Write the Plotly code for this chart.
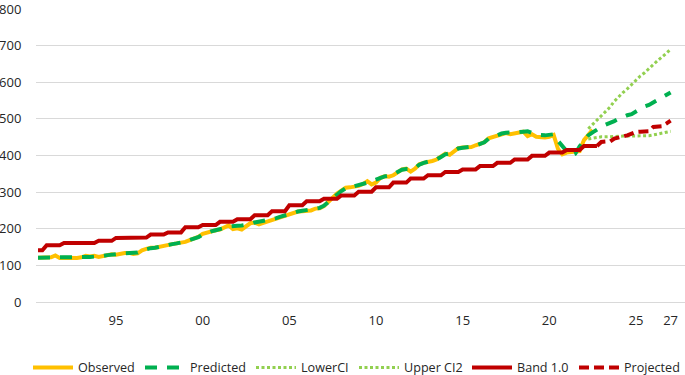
import plotly.graph_objects as go

# Quarterly time axis (decimal years), 1990 Q3 .. 2027 Q1
years = [1990.5 + i / 4 for i in range(147)]

observed = [
    121, 121, 121, 122, 127, 120, 121, 120, 120, 120, 122, 126, 124, 126, 123, 125,
    129, 130, 129, 132, 134, 134, 131, 133, 141, 145, 148, 148, 151, 152, 157, 158,
    160, 162, 164, 169, 173, 178, 186, 190, 193, 196, 198, 203, 209, 199, 201, 198,
    206, 215, 217, 212, 216, 220, 224, 228, 233, 237, 241, 244, 247, 248, 248, 250,
    255, 256, 262, 274, 285, 296, 304, 312, 313, 314, 317, 322, 330, 321, 326, 339,
    343, 342, 346, 354, 362, 364, 356, 364, 376, 380, 382, 385, 389, 397, 405, 402,
    412, 420, 422, 422, 423, 428, 431, 436, 447, 451, 454, 457, 461, 458, 460, 463,
    465, 453, 458, 451, 449, 449, 451, 456, 418, 403, 408, 410, 410, 412, 442, 455,
    470,
]

predicted = [
    121, 121, 121, 121, 122, 121, 121, 121, 121, 121, 122, 123, 123, 124, 124, 126,
    128, 130, 130, 132, 133, 134, 133, 135, 141, 145, 147, 148, 151, 153, 156, 158,
    160, 162, 165, 169, 173, 177, 184, 190, 193, 196, 198, 202, 206, 206, 208, 209,
    210, 213, 217, 219, 221, 223, 226, 229, 233, 237, 241, 244, 247, 249, 251, 252,
    255, 257, 263, 273, 284, 295, 303, 310, 313, 315, 318, 323, 326, 329, 334, 339,
    343, 345, 348, 355, 361, 363, 363, 366, 375, 380, 383, 386, 389, 396, 403, 406,
    412, 419, 421, 422, 424, 427, 431, 436, 446, 451, 455, 460, 462, 462, 463, 464,
    465, 466, 462, 458, 456, 455, 456, 458, 440, 425, 412, 400, 405, 425, 440, 455,
    463, 472, 478, 484, 488, 494, 500, 506, 510, 513, 520, 528, 534, 538, 545, 550,
    556, 563, 572,
]

ci_start = 127
lower_ci = [445, 447, 450, 451, 451, 452, 453, 452, 453, 453,
            453, 453, 453, 453, 454, 456, 458, 460, 463, 466]
upper_ci = [473, 485, 497, 508, 520, 532, 548, 561, 572, 582,
            594, 605, 617, 626, 636, 648, 659, 668, 679, 690]

band = [
    141, 141,
    155, 155, 155, 155,
    161, 161, 161, 161,
    161, 161, 161, 161,
    167, 167, 167, 167,
    175, 175, 175, 175,
    176, 176, 176, 176,
    184, 184, 184, 184,
    190, 190, 190, 190,
    204, 204, 204, 204,
    210, 210, 210, 210,
    219, 219, 219, 219,
    226, 226, 226, 226,
    237, 237, 237, 237,
    248, 248, 248, 248,
    264, 264, 264, 264,
    275, 275, 275, 275,
    282, 282, 282, 282,
    291, 291, 291, 291,
    301, 301, 301, 301,
    313, 313, 313, 313,
    326, 326, 326, 326,
    337, 337, 337, 337,
    346, 346, 346, 346,
    355, 355, 355, 355,
    362, 362, 362, 362,
    371, 371, 371, 371,
    380, 380, 380, 380,
    389, 389, 389, 389,
    399, 399, 399, 399,
    408, 408, 408, 408,
    415, 415, 415, 415,
    426, 426, 426, 426,
]

proj_start = 129
projected = [426, 437, 438, 438, 446, 450, 452, 455, 460, 464,
             465, 466, 466, 478, 478, 480, 487, 495]

tick_vals = [1995, 2000, 2005, 2010, 2015, 2020, 2025, 2027]
tick_text = ["95", "00", "05", "10", "15", "20", "25", "27"]
y_ticks = [0, 100, 200, 300, 400, 500, 600, 700, 800]

FONT = "Open Sans"
TXT = "#262626"

fig = go.Figure()
fig.add_trace(go.Scatter(x=years[:len(observed)], y=observed, mode="lines", name="Observed",
                         legend="legend",
                         line=dict(color="#FFC000", width=4)))
fig.add_trace(go.Scatter(x=years[:len(predicted)], y=predicted, mode="lines", name="Predicted",
                         legend="legend2",
                         line=dict(color="#00B050", width=4, dash="12px,10px")))
fig.add_trace(go.Scatter(x=years[ci_start:ci_start + len(lower_ci)], y=lower_ci, mode="lines",
                         name="LowerCI", legend="legend3",
                         line=dict(color="#92D050", width=3, dash="3px,2.5px")))
fig.add_trace(go.Scatter(x=years[ci_start:ci_start + len(upper_ci)], y=upper_ci, mode="lines",
                         name="Upper CI2", legend="legend4",
                         line=dict(color="#92D050", width=3, dash="3px,2.5px")))
fig.add_trace(go.Scatter(x=years[:len(band)], y=band, mode="lines", name="Band 1.0",
                         legend="legend5",
                         line=dict(color="#C00000", width=4)))
fig.add_trace(go.Scatter(x=years[proj_start:proj_start + len(projected)], y=projected, mode="lines",
                         name="Projected", legend="legend6",
                         line=dict(color="#C00000", width=4, dash="10px,5px")))

# one legend box per entry, placed where each entry sits in the reference
legend_left_px = [28, 140, 251, 354, 467, 574]
legend_style = dict(orientation="h", xref="container", yref="container",
                    xanchor="left", y=0.059, yanchor="top",
                    font=dict(family=FONT, size=12.6, color=TXT),
                    itemwidth=40, bgcolor="rgba(0,0,0,0)")
legends = {}
for k, px in enumerate(legend_left_px):
    key = "legend" if k == 0 else f"legend{k + 1}"
    legends[key] = dict(legend_style, x=px / 685)

fig.update_layout(
    width=685, height=375,
    margin=dict(l=36, r=0, t=9, b=73, autoexpand=False),
    paper_bgcolor="white", plot_bgcolor="white",
    font=dict(family=FONT, size=13, color=TXT),
    showlegend=True,
    xaxis=dict(range=[1990.384, 2027.83], tickvals=tick_vals, ticktext=tick_text,
               showgrid=False, zeroline=False, showline=False, automargin=False,
               ticklabeloverflow="allow",
               ticks="outside", ticklen=6, tickcolor="rgba(0,0,0,0)",
               tickfont=dict(family=FONT, size=13, color=TXT)),
    yaxis=dict(range=[0, 800], tickvals=y_ticks, showgrid=True, gridcolor="#D9D9D9", gridwidth=1,
               zeroline=True, zerolinecolor="#D9D9D9", zerolinewidth=1, showline=False,
               automargin=False, ticklabeloverflow="allow",
               ticks="outside", ticklen=11, tickcolor="rgba(0,0,0,0)",
               tickfont=dict(family=FONT, size=13, color=TXT)),
    **legends,
)

fig.write_html(
    "out.html",
    config={"displayModeBar": False},
    post_script="document.body.style.margin='0';document.body.style.overflow='hidden';",
)
